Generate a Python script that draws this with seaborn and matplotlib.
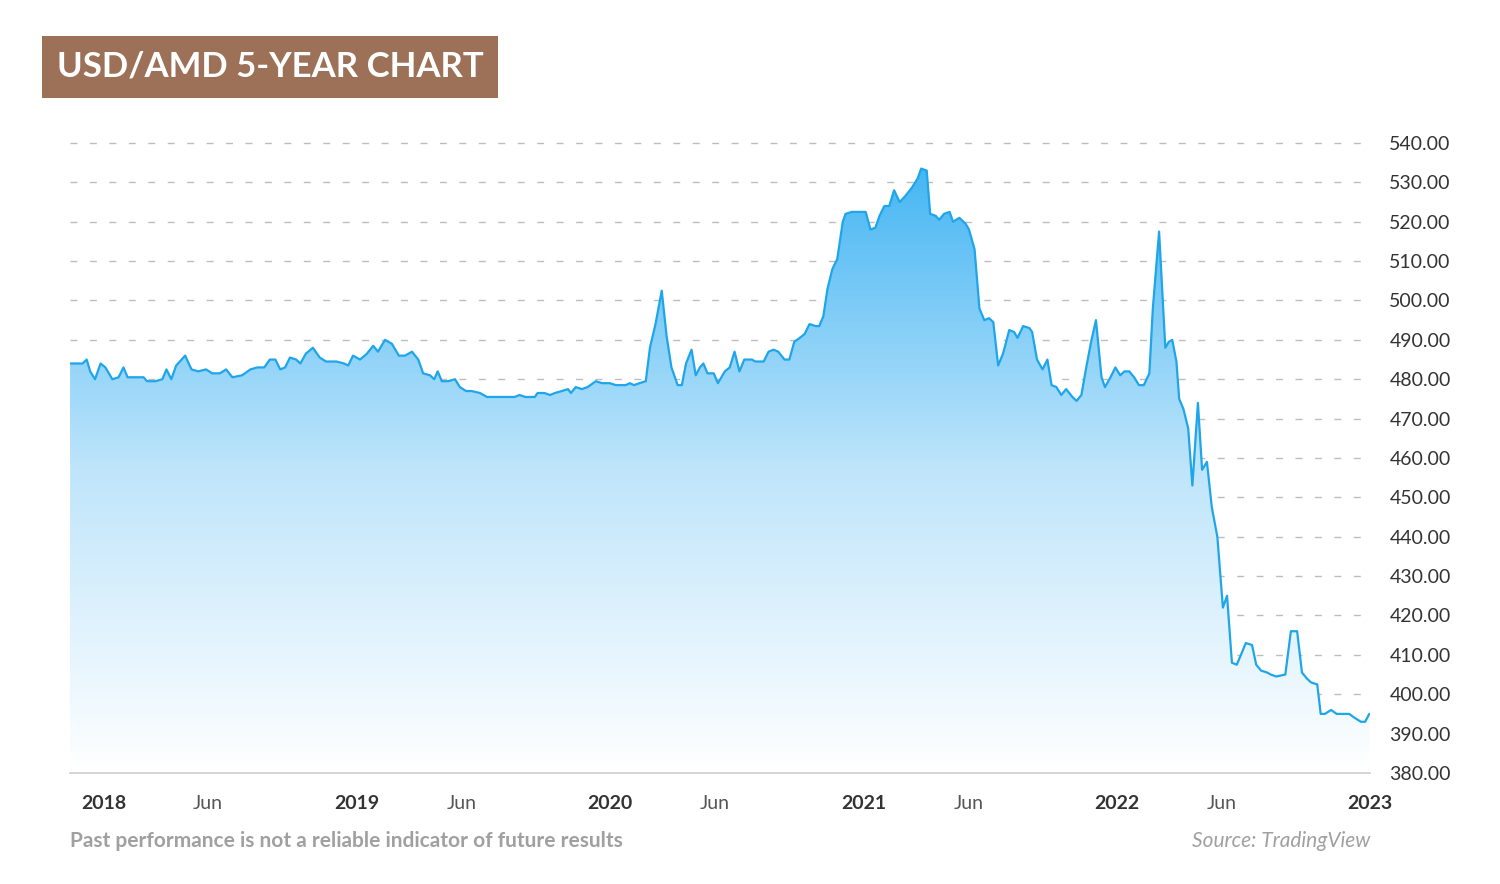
import matplotlib
matplotlib.use("Agg")
import matplotlib.pyplot as plt
import matplotlib.dates as mdates
import seaborn as sns
import pandas as pd
import numpy as np
from matplotlib.colors import LinearSegmentedColormap

sns.set(style="white")
plt.rcParams["font.family"] = "Lato"

# days since 2018-01-01 and USD/AMD rate
days = [-48, -30, -24, -19, -12, -4, 3, 13, 22, 29, 35, 46, 58, 63, 75, 85, 91, 98, 105, 118,
        127, 137, 148, 157, 168, 177, 186, 200, 212, 222, 232, 240, 248, 255, 262, 269, 278, 284, 292, 302,
        312, 321, 336, 347, 353, 360, 370, 380, 389, 396, 406, 416, 426, 435, 445, 454, 461, 471, 477, 482,
        488, 497, 507, 514, 523, 531, 543, 553, 567, 593, 600, 608, 622, 626, 636, 644, 651, 661, 670, 674,
        681, 690, 698, 710, 719, 730, 739, 753, 759, 765, 773, 782, 788, 796, 805, 812, 819, 828, 834, 840,
        848, 854, 860, 865, 871, 880, 886, 896, 903, 910, 917, 924, 935, 940, 952, 959, 966, 973, 982, 989,
        996, 1004, 1011, 1018, 1027, 1032, 1038, 1044, 1051, 1058, 1066, 1070, 1079, 1090, 1099, 1106, 1113, 1119, 1126, 1133,
        1140, 1148, 1156, 1165, 1174, 1179, 1187, 1192, 1200, 1205, 1212, 1220, 1225, 1234, 1243, 1248, 1256, 1263, 1270, 1277,
        1283, 1290, 1297, 1306, 1313, 1318, 1326, 1335, 1339, 1346, 1354, 1361, 1367, 1374, 1381, 1388, 1397, 1403, 1410, 1417,
        1424, 1431, 1439, 1444, 1452, 1459, 1466, 1472, 1479, 1486, 1493, 1500, 1508, 1513, 1522, 1531, 1536, 1541, 1547, 1551,
        1557, 1564, 1570, 1578, 1584, 1591, 1598, 1606, 1614, 1620, 1627, 1634, 1640, 1647, 1656, 1662, 1669, 1678, 1683, 1691,
        1704, 1712, 1721, 1728, 1735, 1741, 1750, 1755, 1761, 1770, 1778, 1796, 1804, 1813, 1819, 1825]
rates = [484, 484, 485, 482, 480, 484, 483, 480, 480.5, 483, 480.5, 480.5, 480.5, 479.5, 479.5, 480, 482.5, 480, 483.5, 486,
         482.5, 482, 482.5, 481.5, 481.5, 482.5, 480.5, 481, 482.5, 483, 483, 485, 485, 482.5, 483, 485.5, 485, 484, 486.5, 488,
         485.5, 484.5, 484.5, 484, 483.5, 486, 485, 486.5, 488.5, 487, 490, 489, 486, 486, 487, 485, 481.5, 481, 480, 482,
         479.5, 479.5, 480, 478, 477, 477, 476.5, 475.5, 475.5, 475.5, 476, 475.5, 475.5, 476.5, 476.5, 476, 476.5, 477, 477.5, 476.5,
         478, 477.5, 478, 479.5, 479, 479, 478.5, 478.5, 479, 478.5, 479, 479.5, 488, 494, 502.5, 491, 483, 478.5, 478.5, 484,
         487.5, 481, 483, 484, 481.5, 481.5, 479, 482, 483, 487, 482, 485, 485, 484.5, 484.5, 487, 487.5, 487, 485, 485,
         489.5, 490.5, 491.5, 494, 493.5, 493.5, 496, 503, 508, 510.5, 520, 522, 522.5, 522.5, 522.5, 518, 518.5, 521.5, 524, 524,
         528, 525, 526.5, 528.5, 531, 533.5, 533, 522, 521.5, 520.5, 522, 522.5, 520, 521, 519.5, 518, 513, 498, 495, 495.5,
         494.5, 483.5, 486.5, 492.5, 492, 490.5, 493.5, 493, 492, 485, 482.5, 485, 478.5, 478, 476, 477.5, 475.5, 474.5, 476, 483,
         489.5, 495, 480.5, 478, 480.5, 483, 481, 482, 482, 480.5, 478.5, 478.5, 481.5, 498, 517.5, 488, 489.5, 490, 484.5, 475,
         472.5, 467.5, 453, 474, 457, 459, 447.5, 440, 422, 425, 408, 407.5, 410, 413, 412.5, 407.5, 406, 405.5, 405, 404.5,
         405, 416, 416, 405.5, 404, 403, 402.5, 395, 395, 396, 395, 395, 394, 393, 393, 395]

y_ticks = [380, 390, 400, 410, 420, 430, 440, 450, 460, 470, 480, 490, 500, 510, 520, 530, 540]
year_ticks = ["2018", "2019", "2020", "2021", "2022", "2023"]
jun_ticks = ["2018-06-01", "2019-06-01", "2020-06-01", "2021-06-01", "2022-06-01"]

df = pd.DataFrame({"date": pd.Timestamp("2018-01-01") + pd.to_timedelta(days, unit="D"), "rate": rates})

fig = plt.figure(figsize=(15, 8.84), dpi=100)
ax = fig.add_axes([0.0467, 0.1256, 0.8666, 0.726])
ymin, ymax = 380, 543
xmin, xmax = df["date"].min(), df["date"].max()

# gradient fill under the line
cmap = LinearSegmentedColormap.from_list("g", ["#ffffff", "#bfe5fb", "#45b6f3"])
grad = np.linspace(0, 1, 256).reshape(-1, 1)
im = ax.imshow(grad, cmap=cmap, aspect="auto", origin="lower",
               extent=[mdates.date2num(xmin), mdates.date2num(xmax), ymin, 534], zorder=1)
poly = ax.fill_between(df["date"], rates, ymin, color="none")
path = poly.get_paths()[0]
im.set_clip_path(path, transform=ax.transData)

sns.lineplot(data=df, x="date", y="rate", color="#1ea5ea", linewidth=1.6, ax=ax, zorder=3)

for v in y_ticks[1:]:
    ax.axhline(v, color="#bdbdbd", linestyle=(0, (5, 9)), linewidth=1, zorder=0)

ax.set_xlim(xmin, xmax)
ax.set_ylim(ymin, ymax)
for s in ["top", "left", "right"]:
    ax.spines[s].set_visible(False)
ax.spines["bottom"].set_color("#d0d0d0")
ax.yaxis.tick_right()
ax.set_yticks(y_ticks)
ax.set_yticklabels([f"{v:.2f}" for v in y_ticks], fontsize=14, color="#333333")
ax.tick_params(axis="y", length=0, pad=14)
ax.tick_params(axis="x", length=0, pad=16)
xt = [pd.Timestamp(f"{y}-01-01") for y in year_ticks] + [pd.Timestamp(d) for d in jun_ticks]
ax.set_xticks(xt)
ax.set_xticklabels(year_ticks + ["Jun"] * len(jun_ticks), fontsize=14)
for lab in ax.get_xticklabels():
    if lab.get_text() == "Jun":
        lab.set_color("#555555")
    else:
        lab.set_color("#333333")
        lab.set_fontweight("bold")
ax.set_xlabel("")
ax.set_ylabel("")

fig.text(57 / 1500, 1 - 67 / 884, "USD/AMD 5-YEAR CHART", fontsize=25, fontweight="bold", color="white",
         va="center", ha="left",
         bbox=dict(boxstyle="square,pad=0.42", facecolor="#9c7157", edgecolor="none"))
fig.text(0.0467, 1 - 841 / 884, "Past performance is not a reliable indicator of future results",
         fontsize=15, fontweight="bold", color="#a0a0a0", va="center", ha="left")
fig.text(0.9133, 1 - 841 / 884, "Source: TradingView", fontsize=15, style="italic",
         color="#a0a0a0", va="center", ha="right")

fig.savefig("out.png", dpi=100)
